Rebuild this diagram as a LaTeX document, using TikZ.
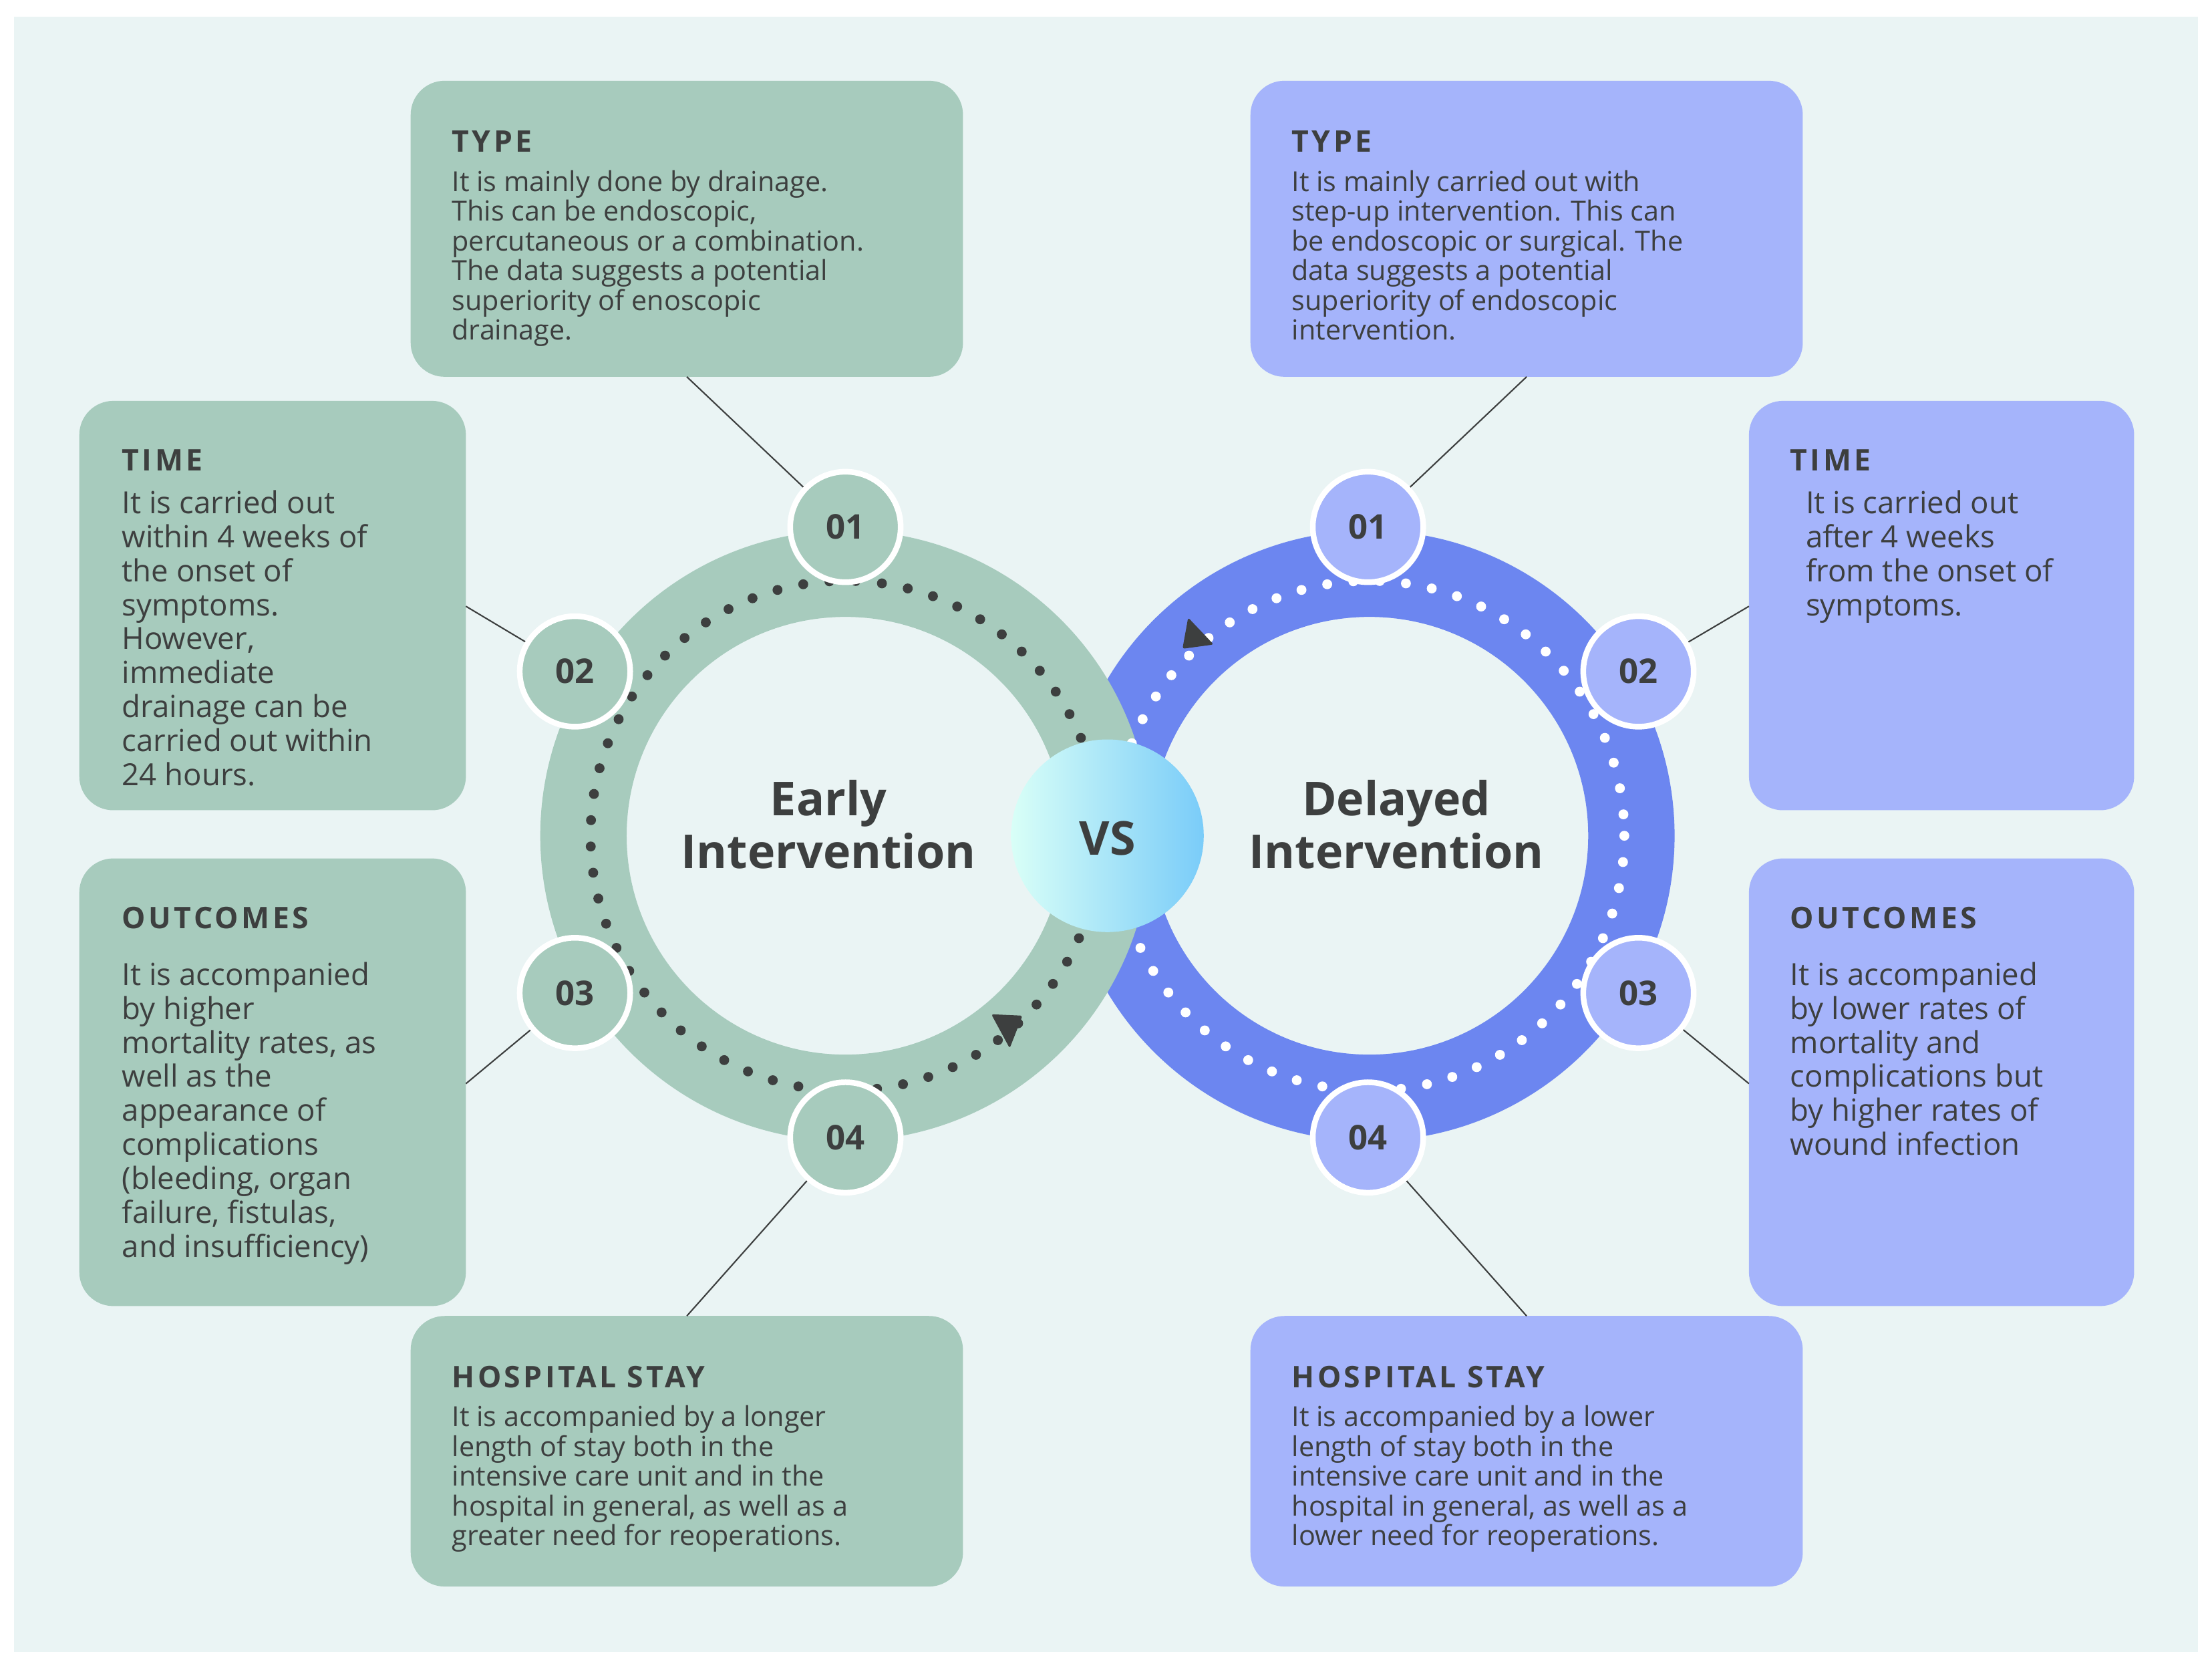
\documentclass[tikz,border=0pt]{standalone}
\usepackage{fontspec}
\setmainfont{Open Sans}
\definecolor{bg}{HTML}{EAF4F4}
\definecolor{grn}{HTML}{A7CBBD}
\definecolor{blu}{HTML}{6C86F0}
\definecolor{lblu}{HTML}{A5B4FB}
\definecolor{txt}{HTML}{3D3F3F}
\begin{document}
\begin{tikzpicture}[x=1pt,y=-1pt,
  box/.style={rounded corners=24pt},
  ttl/.style={anchor=west,text=txt,inner sep=0pt,font=\fontsize{21}{24}\selectfont\bfseries\addfontfeatures{LetterSpace=10}},
  bodyS/.style={anchor=north west,text=txt,inner sep=0pt,align=left,font=\fontsize{19.5}{21}\selectfont},
  bodyL/.style={anchor=north west,text=txt,inner sep=0pt,align=left,font=\fontsize{21.5}{24}\selectfont},
  conn/.style={draw=txt,line width=1pt},
  badgeG/.style={circle,fill=grn,draw=white,line width=4pt,minimum size=78pt,inner sep=0pt,text=txt,font=\fontsize{24}{26}\selectfont\bfseries},
  badgeB/.style={badgeG,fill=lblu},
  big/.style={text=txt,align=center,font=\fontsize{33}{37}\selectfont\bfseries}]
\useasboundingbox (0,0) rectangle (1562,1180);
\fill[white] (0,0) rectangle (1562,1180);
\fill[bg] (10,12) rectangle (1552,1166);
% boxes
\fill[grn,box] (290,57) rectangle (680,266);
\fill[grn,box] (56,283) rectangle (329,572);
\fill[grn,box] (56,606) rectangle (329,922);
\fill[grn,box] (290,929) rectangle (680,1120);
\fill[lblu,box] (883,57) rectangle (1273,266);
\fill[lblu,box] (1235,283) rectangle (1507,572);
\fill[lblu,box] (1235,606) rectangle (1507,922);
\fill[lblu,box] (883,929) rectangle (1273,1120);
% rings
\draw[blu,line width=61pt] (967,590) circle (185);
\draw[grn,line width=61pt] (597,590) circle (185);
\draw[txt,line width=7pt,line cap=round,dash pattern=on 0pt off 18.6pt] (597,590) circle (180);
\draw[white,line width=7pt,line cap=round,dash pattern=on 0pt off 18.6pt] (967,590) circle (180);
\fill[txt,rounded corners=1.5pt] (700,716) -- (722,717) -- (713,740) -- cycle;
\fill[txt,rounded corners=1.5pt] (839,436) -- (857,455) -- (835,458) -- cycle;
% badges
\node[badgeG] (l1) at (597,372) {01};
\node[badgeG] (l2) at (406,474) {02};
\node[badgeG] (l3) at (406,701) {03};
\node[badgeG] (l4) at (597,803) {04};
\node[badgeB] (r1) at (966,372) {01};
\node[badgeB] (r2) at (1157,474) {02};
\node[badgeB] (r3) at (1157,701) {03};
\node[badgeB] (r4) at (966,803) {04};
% connectors
\coordinate (a1) at (485,266); \coordinate (a2) at (329,428);
\coordinate (a3) at (329,765); \coordinate (a4) at (485,929);
\coordinate (b1) at (1078,266); \coordinate (b2) at (1235,428);
\coordinate (b3) at (1235,765); \coordinate (b4) at (1078,929);
\draw[conn] (a1) -- (l1); \draw[conn] (a2) -- (l2);
\draw[conn] (a3) -- (l3); \draw[conn] (a4) -- (l4);
\draw[conn] (b1) -- (r1); \draw[conn] (b2) -- (r2);
\draw[conn] (b3) -- (r3); \draw[conn] (b4) -- (r4);
% center
\node[big] (early) at (585,582) {Early\\Intervention};
\node[big] (delayed) at (986,582) {Delayed\\Intervention};
\shade[left color=green!20!cyan!15!white,right color=blu!60!cyan!70!white] (782,590) circle (68);
\node[big] (vs) at (782,592) {VS};
% texts left
\node[ttl] (t1) at (319,100) {TYPE};
\node[bodyS] at (319,120) {It is mainly done by drainage.\\This can be endoscopic,\\percutaneous or a combination.\\The data suggests a potential\\superiority of enoscopic\\drainage.};
\node[ttl] (t2) at (86,325) {TIME};
\node[bodyL] at (86,346) {It is carried out\\within 4 weeks of\\the onset of\\symptoms.\\However,\\immediate\\drainage can be\\carried out within\\24 hours.};
\node[ttl] (t3) at (86,648) {OUTCOMES};
\node[bodyL] at (86,679) {It is accompanied\\by higher\\mortality rates, as\\well as the\\appearance of\\complications\\(bleeding, organ\\failure, fistulas,\\and insufficiency)};
\node[ttl] (t4) at (319,972) {HOSPITAL STAY};
\node[bodyS] at (319,992) {It is accompanied by a longer\\length of stay both in the\\intensive care unit and in the\\hospital in general, as well as a\\greater need for reoperations.};
% texts right
\node[ttl] (u1) at (912,100) {TYPE};
\node[bodyS] at (912,120) {It is mainly carried out with\\step-up intervention. This can\\be endoscopic or surgical. The\\data suggests a potential\\superiority of endoscopic\\intervention.};
\node[ttl] (u2) at (1264,325) {TIME};
\node[bodyL] at (1275,346) {It is carried out\\after 4 weeks\\from the onset of\\symptoms.};
\node[ttl] (u3) at (1264,648) {OUTCOMES};
\node[bodyL] at (1264,679) {It is accompanied\\by lower rates of\\mortality and\\complications but\\by higher rates of\\wound infection};
\node[ttl] (u4) at (912,972) {HOSPITAL STAY};
\node[bodyS] at (912,992) {It is accompanied by a lower\\length of stay both in the\\intensive care unit and in the\\hospital in general, as well as a\\lower need for reoperations.};
\end{tikzpicture}
\end{document}
